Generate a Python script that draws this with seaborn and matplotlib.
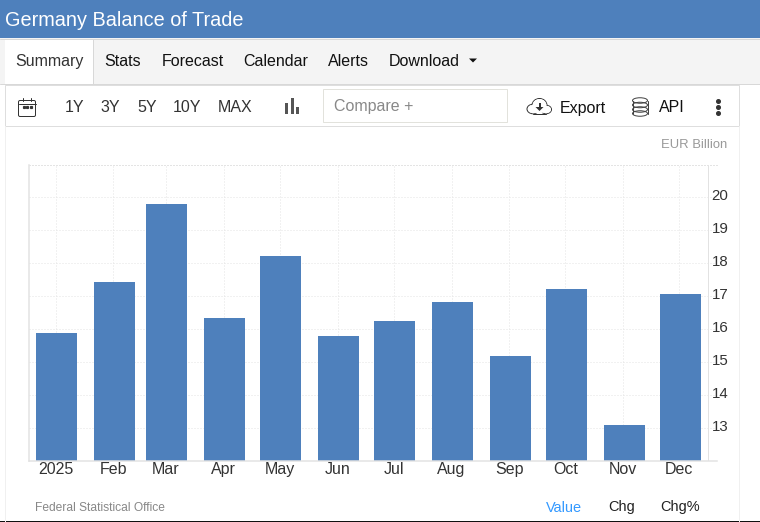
import matplotlib
matplotlib.use("Agg")
import matplotlib.pyplot as plt
import matplotlib.transforms as mtrans
from matplotlib.patches import Rectangle, Ellipse, FancyBboxPatch, Polygon
import numpy as np
import pandas as pd
import seaborn as sns

months = ["2025", "Feb", "Mar", "Apr", "May", "Jun", "Jul", "Aug", "Sep", "Oct", "Nov", "Dec"]
days = [0, 31, 59, 90, 120, 151, 181, 212, 243, 273, 304, 334]
values = [15.89, 17.44, 19.80, 16.34, 18.23, 15.80, 16.25, 16.83, 15.19, 17.20, 13.08, 17.05]
yticks = [13, 14, 15, 16, 17, 18, 19, 20]

BLUE = "#4e80bc"
W, H = 760, 522
LW = 0.72  # one pixel at dpi 100

sns.set_theme(style="white")
plt.rcParams['font.family'] = ['Liberation Sans', 'DejaVu Sans']

df = pd.DataFrame({"day": days, "value": values})
fig = plt.figure(figsize=(W / 100, H / 100), dpi=100, facecolor="white")


def px(size):
    return size * 0.72


# page parts around the chart, in pixel coordinates
ui = fig.add_axes([0, 0, 1, 1], zorder=0)
ui.set_xlim(0, W)
ui.set_ylim(H, 0)
ui.axis("off")


def box(x, y, w, h, fc="white", ec="none", lw=LW):
    ui.add_patch(Rectangle((x, y), w, h, fc=fc, ec=ec, lw=lw))


def label(x, y, s, size=16, color="#222222", ha="left"):
    ui.text(x, y, s, fontsize=px(size), color=color, ha=ha, va="center_baseline")


box(0, 0, W, 38, fc=BLUE)
box(0, 38, W, 46, fc="#f4f4f4")
ui.plot([0, W], [38.5, 38.5], color="#d8d8d8", lw=LW)
ui.plot([0, W], [83.5, 83.5], color="#d8d8d8", lw=LW)
box(5, 39, 88, 45, fc="white")
ui.plot([93, 93], [39, 84], color="#d8d8d8", lw=LW)
label(5, 19, "Germany Balance of Trade", 19.9, "white")

label(49, 60, "Summary", 16, "#333333", "center")
label(122.5, 60, "Stats", 16, "#111111", "center")
label(192.5, 60, "Forecast", 16, "#111111", "center")
label(276, 60, "Calendar", 16, "#111111", "center")
label(348, 60, "Alerts", 16, "#111111", "center")
label(424.5, 60, "Download", 16, "#111111", "center")
ui.add_patch(Polygon([[469, 58.5], [477, 58.5], [473, 62.5]], fc="#111111", ec="none"))

box(5, 85, 733.5, 41, fc="white", ec="#dedede")
ui.plot([5, 5], [126, H], color="#f0f0f0", lw=LW)
ui.plot([739, 739], [126, H], color="#f0f0f0", lw=LW)
box(0, 521, W, 1, fc="#111111")

# calendar icon
ui.add_patch(FancyBboxPatch((18.5, 100.5), 17, 16, boxstyle="round,pad=0,rounding_size=1.5",
                            fc="none", ec="#333333", lw=LW))
ui.plot([18.5, 35.5], [103.5, 103.5], color="#333333", lw=LW)
ui.plot([23, 23], [98, 101], color="#333333", lw=LW)
ui.plot([31, 31], [98, 101], color="#333333", lw=LW)
ui.plot([23.5, 27, 30.5], [106.5, 106.5, 106.5], ls="none", marker="s", ms=1.3, color="#333333")

for x, s in zip([75, 110, 147, 187, 235], ["1Y", "3Y", "5Y", "10Y", "MAX"]):
    label(x, 106.5, s, 16, "#333333", "center")

# bar chart icon
for x, top in zip([285, 290.5, 296], [103, 98, 107]):
    box(x, top, 3, 113.5 - top, fc="#555555")

box(323, 89, 184, 33, fc="white", ec="#e2e2dc")
label(334, 105.5, "Compare +", 16, "#888888")

# cloud icon
for cx, cy, w, h in [(533, 109, 12, 9.5), (539.5, 105.5, 15, 14), (546, 109.5, 11, 8.5)]:
    ui.add_patch(Ellipse((cx, cy), w, h, fc="none", ec="#333333", lw=LW))
for cx, cy, w, h in [(533.5, 109, 11, 8.5), (539.5, 105.5, 14, 13), (546, 109.5, 10, 7.5), (539, 110, 14, 6.5)]:
    ui.add_patch(Ellipse((cx, cy), w, h, fc="white", ec="none"))
ui.plot([533, 546], [113.5, 113.5], color="#333333", lw=LW)
ui.add_patch(Polygon([[535.5, 107], [543.5, 107], [539.5, 111]], fc="#333333", ec="none"))
box(538.5, 103, 2, 5, fc="#333333")
label(560, 106.5, "Export", 16, "#111111")

# database icon
for cy in [100.5, 105, 109.5, 113.5]:
    ui.add_patch(Ellipse((640, cy), 15, 5.5, fc="white" if cy == 100.5 else "none", ec="#444444", lw=LW))
ui.plot([632.5, 632.5], [100.5, 113.5], color="#444444", lw=LW)
ui.plot([647.5, 647.5], [100.5, 113.5], color="#444444", lw=LW)
label(659, 106.5, "API", 16, "#111111")

ui.plot([718, 718, 718], [100.5, 106.5, 112.5], ls="none", marker="o", ms=2.6, color="#333333")

label(727, 144, "EUR Billion", 13, "#999999", "right")
label(35, 506.5, "Federal Statistical Office", 12, "#888888")
label(564, 506, "Value", 14.5, "#3399ff", "center")
label(622, 506, "Chg", 14.5, "#222222", "center")
label(680, 506, "Chg%", 14.5, "#222222", "center")

# chart itself: date positions in days from 1 Jan
left, right, top, bottom = 29, 717, 164.5, 460.5
scale = 1.868
ax = fig.add_axes([left / W, 1 - bottom / H, (right - left) / W, (bottom - top) / H], zorder=1)
ax.patch.set_alpha(0)
sns.barplot(data=df, x="day", y="value", native_scale=True, width=41 / (28 * scale),
            color=BLUE, saturation=1, linewidth=0, ax=ax)
ax.set_xlim((left - 56.5) / scale, (right - 56.5) / scale)
ax.set_ylim(12, 21)
ax.set_xlabel("")
ax.set_ylabel("")

# ticks sit 1px left of the bar centres in the original
ax.set_xticks(np.array(days) - 1 / scale)
ax.set_xticklabels(months)
ax.set_yticks(yticks)
ax.yaxis.tick_right()
ax.set_axisbelow(True)
ax.grid(True, color="#e4e4e4", lw=LW, ls=(0, (1, 2)))
ax.tick_params(axis="x", length=0, pad=1.3, labelsize=px(16), labelcolor="#333333")
ax.tick_params(axis="y", length=0, pad=px(-5.5), labelsize=px(15), labelcolor="#333333")
shift = mtrans.ScaledTranslation(0, 2.5 / 100, fig.dpi_scale_trans)
for t in ax.get_yticklabels():
    t.set_transform(t.get_transform() + shift)

for side in ["left", "bottom"]:
    ax.spines[side].set_color("#e2e2e2")
    ax.spines[side].set_linewidth(LW * 1.5)
ax.spines["right"].set_visible(False)
ax.spines["top"].set_color("#e4e4e4")
ax.spines["top"].set_linewidth(LW)
ax.spines["top"].set_linestyle((0, (1, 2)))
ax.axvline((707.5 - 56.5) / scale, color="#e2e2e2", lw=LW)

fig.savefig("out.png", dpi=100, facecolor="white")
